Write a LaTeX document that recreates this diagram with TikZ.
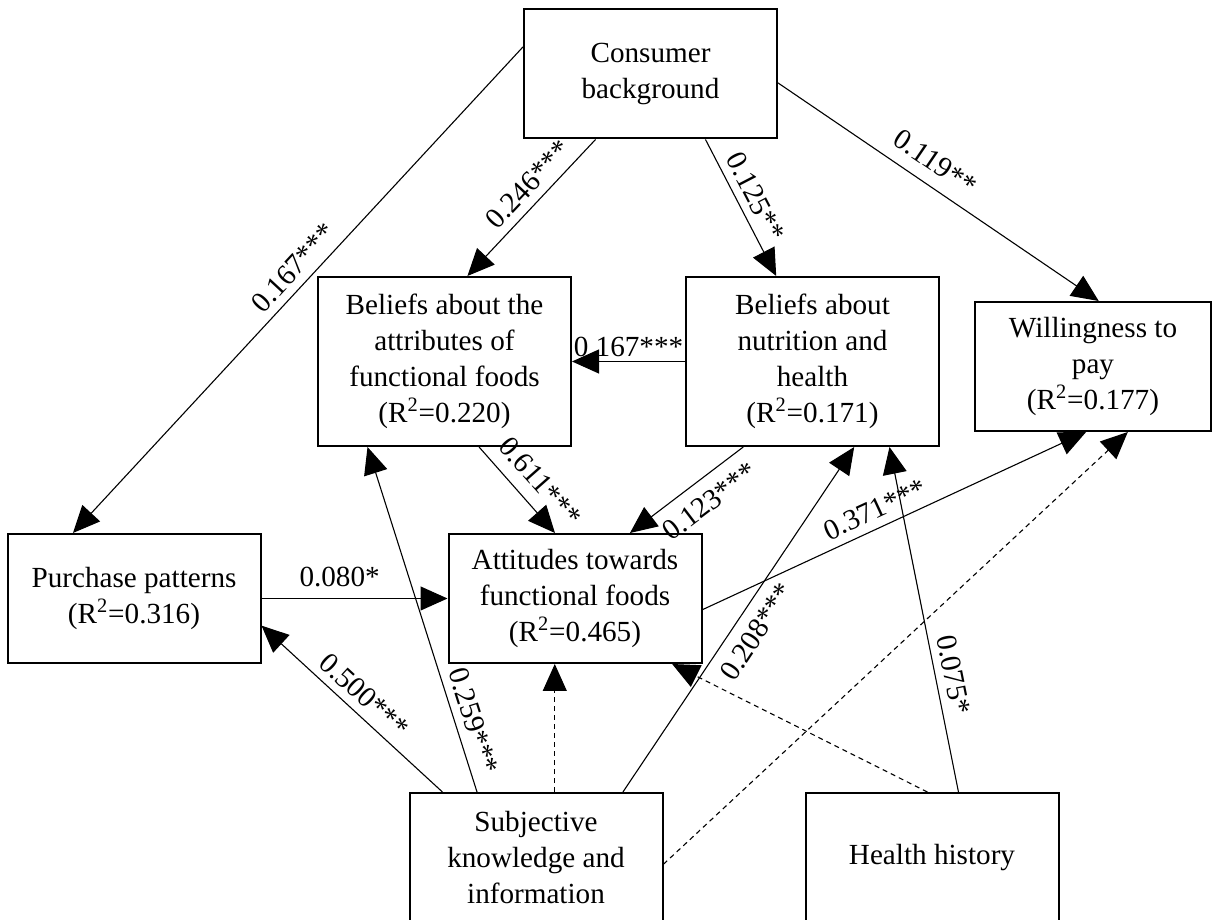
\documentclass[tikz,border=0pt]{standalone}
\usepackage{fontspec}
\setmainfont{Liberation Serif}
\usepackage{tikz}
\usetikzlibrary{arrows.meta,positioning}
\newcommand\diagfont{\fontsize{16.6pt}{20.5pt}\selectfont}
\tikzset{
  box/.style={draw=black,line width=0.4mm,align=center,inner sep=0pt,
    minimum width=50.6mm,minimum height=25.8mm,font=\diagfont},
  tallbox/.style={box,minimum height=33.8mm},
  arrow/.style={-{Triangle[length=5.4mm,width=4.8mm]},line width=0.22mm,draw=black},
  dashedarrow/.style={arrow,dash pattern=on 1mm off 0.8mm},
  coef/.style={font=\diagfont,sloped,inner sep=4.5pt}
}
\begin{document}
\begin{tikzpicture}
  \useasboundingbox (0,0) rectangle (243mm,-184mm);
  \node[box] (cons) at (130.1mm,-14.8mm) {Consumer\\background};
  \node[tallbox] (att) at (88.9mm,-72.3mm) {Beliefs about the\\attributes of\\functional foods\\(R\textsuperscript{2}=0.220)};
  \node[tallbox,right=22.6mm of att] (nut) {Beliefs about\\nutrition and\\health\\(R\textsuperscript{2}=0.171)};
  \node[box,minimum width=47.2mm,right=6.8mm of nut,yshift=-1mm] (wtp) {Willingness to\\pay\\(R\textsuperscript{2}=0.177)};
  \node[box] (pur) at (26.8mm,-119.7mm) {Purchase patterns\\(R\textsuperscript{2}=0.316)};
  \node[box,right=37.2mm of pur] (attd) {Attitudes towards\\functional foods\\(R\textsuperscript{2}=0.465)};
  \node[box] (subj) at (107.2mm,-171.5mm) {Subjective\\knowledge and\\information};
  \node[box,right=28.2mm of subj] (hist) {Health history};
  \draw[arrow] (cons.168) -- node[coef,above,pos=0.48] {0.167***} (pur.133);
  \draw[arrow] (cons.230) -- node[coef,above,pos=0.42] {0.246***} (att.75);
  \draw[arrow] (cons.310) -- node[coef,above,pos=0.48] {0.125**} (nut.113);
  \draw[arrow] (cons.356) -- node[coef,above,pos=0.45,inner sep=7pt] {0.119**} (wtp.85);
  \draw[arrow] (nut.west) -- node[coef,above,inner sep=2.5pt] {0.167***} (att.east);
  \draw[arrow] (att.292) -- node[coef,above,pos=0.58,inner sep=7pt] {0.611***} (attd.107);
  \draw[arrow] (nut.231) -- node[coef,below,pos=0.42,inner sep=7pt] {0.123***} (attd.50);
  \draw[arrow] (pur.east) -- node[coef,above,pos=0.42,inner sep=6pt] {0.080*} (attd.west);
  \draw[arrow] (attd.355) -- node[coef,above,pos=0.47] {0.371***} (wtp.264);
  \draw[arrow] (subj.145) -- node[coef,above] {0.500***} (pur.348);
  \draw[arrow] (subj.132) -- node[coef,above,pos=0.19] {0.259***} (att.228);
  \draw[dashedarrow] (subj.74) -- (subj.74 |- attd.south);
  \draw[arrow] (subj.37) -- node[coef,below,pos=0.5,inner sep=6.5pt] {0.208***} (nut.296);
  \draw[dashedarrow] (subj.357) -- (wtp.298);
  \draw[dashedarrow] (hist.94) -- (attd.326);
  \draw[arrow] (hist.68) -- node[coef,above,pos=0.33] {0.075*} (nut.312);
\end{tikzpicture}
\end{document}
